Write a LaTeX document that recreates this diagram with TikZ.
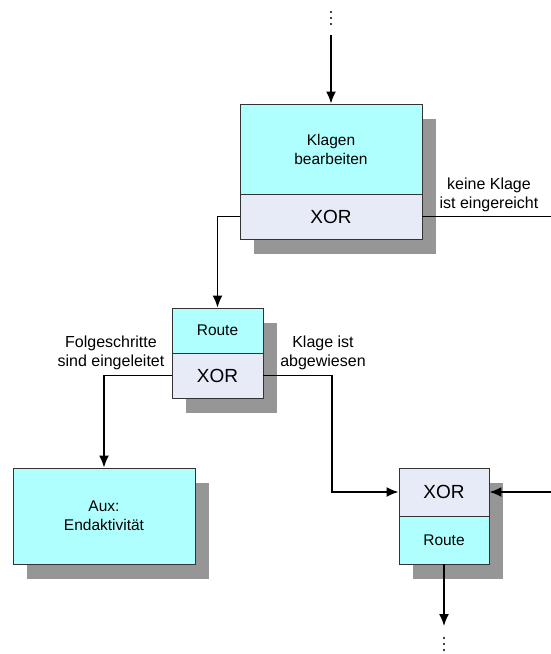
\documentclass[tikz,border=0pt]{standalone}
\usepackage{fontspec}
\setmainfont{Liberation Sans}
\usetikzlibrary{arrows.meta,backgrounds}
\definecolor{actcyan}{RGB}{175,255,255}
\definecolor{xorblue}{RGB}{230,235,247}
\definecolor{shade}{RGB}{150,150,150}
\tikzset{
  part/.style={draw=black!80, line width=0.9pt, inner sep=0pt, align=center,
    font=\fontsize{15.5}{19}\selectfont},
  act/.style={part, fill=actcyan},
  xor/.style={part, fill=xorblue, font=\fontsize{19}{22}\selectfont},
  flow/.style={line width=1.7pt, -{Latex[length=12pt,width=10pt]}},
  plain/.style={line width=1.5pt},
  lbl/.style={align=center, font=\fontsize{16}{19}\selectfont},
  shadowbox/.style={fill=shade}
}

\begin{document}
\begin{tikzpicture}[x=1pt,y=-1pt]
  \useasboundingbox (0,0) rectangle (551,654);
  % functions and connectors
  \node [act, minimum width=182, minimum height=90] (kb) at (331,149) {Klagen\\bearbeiten};
  \node [xor, minimum width=182, minimum height=45] (kbx) at (331,216.5) {XOR};
  \node [act, minimum width=91, minimum height=45] (r1) at (217.5,330.5) {Route};
  \node [xor, minimum width=91, minimum height=45] (r1x) at (217.5,375.5) {XOR};
  \node [act, minimum width=182, minimum height=96] (aux) at (104,516) {Aux:\\Endaktivität};
  \node [xor, minimum width=90, minimum height=48] (jx) at (444,492) {XOR};
  \node [act, minimum width=90, minimum height=48] (jr) at (444,540) {Route};
  \begin{scope}[on background layer]
    \fill [shadowbox] ([shift={(14,15)}]kb.north west) rectangle ([shift={(14,15)}]kbx.south east);
    \fill [shadowbox] ([shift={(14,15)}]r1.north west) rectangle ([shift={(14,15)}]r1x.south east);
    \fill [shadowbox] ([shift={(14,15)}]aux.north west) rectangle ([shift={(14,15)}]aux.south east);
    \fill [shadowbox] ([shift={(14,15)}]jx.north west) rectangle ([shift={(14,15)}]jr.south east);
  \end{scope}
  \foreach \y in {12,18,24} \fill (331,\y) circle (1.2);
  \foreach \y in {638,644,650} \fill (444,\y) circle (1.2);
  \coordinate (topin) at (331,35);
  \coordinate (kbout) at (551,216.5);
  \coordinate (bend) at (332,375.5);
  \coordinate (jin) at (551,492);
  \coordinate (jout) at (444,626);
  \draw [flow] (topin) -- (kb.north);
  \draw [flow] (kbx.west) -| (r1.north);
  \draw [plain] (kbx.east) -- (kbout);
  \draw [flow] (r1x.west) -| (aux.north);
  \draw [flow] (r1x.east) -- (bend) |- (jx.west);
  \draw [flow] (jin) -- (jx.east);
  \draw [flow] (jr.south) -- (jout);
  \node [lbl] (kein) at (489,194.5) {keine Klage\\ist eingereicht};
  \node [lbl] (folge) at (111,353) {Folgeschritte\\sind eingeleitet};
  \node [lbl] (abgew) at (323,353) {Klage ist\\abgewiesen};
\end{tikzpicture}
\end{document}
